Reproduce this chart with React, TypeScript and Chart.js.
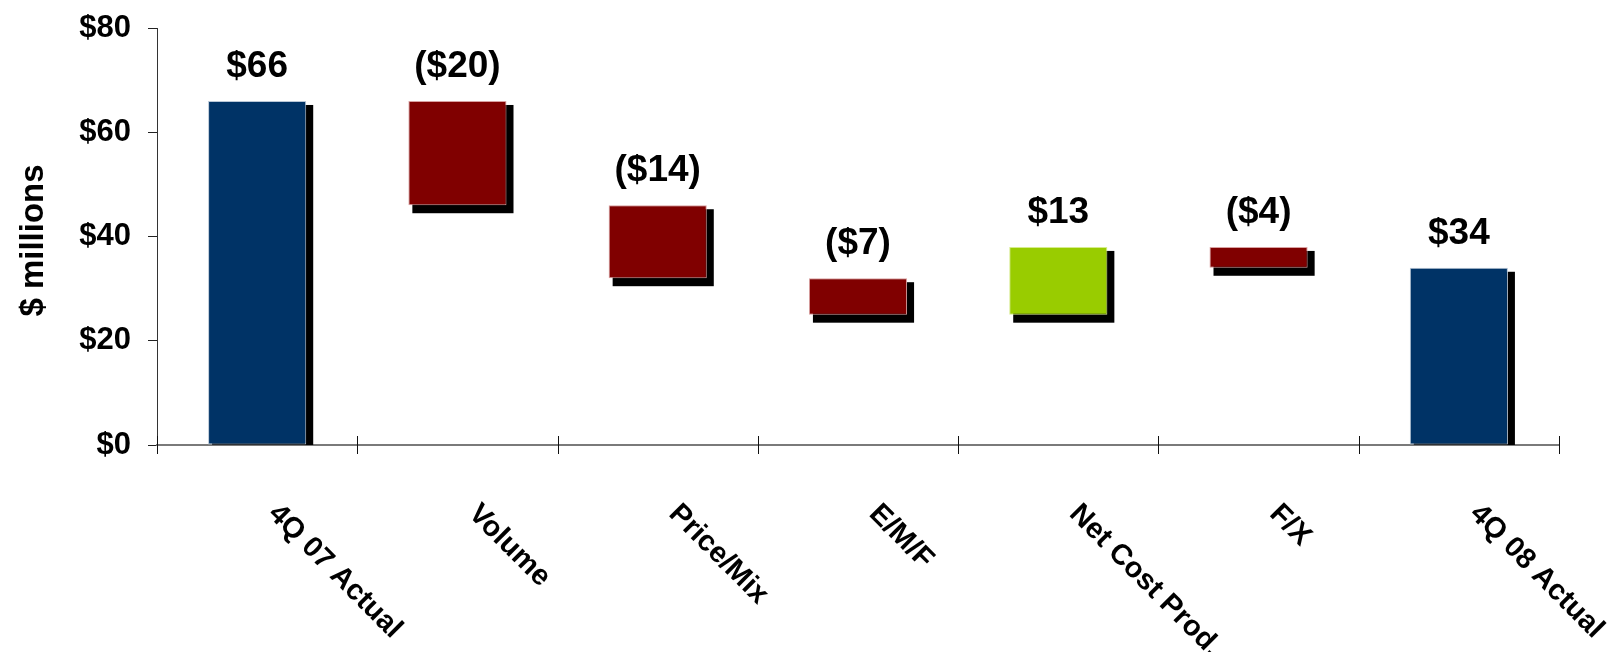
import React, { useEffect, useRef } from "react";
import { Chart, registerables } from "chart.js";

Chart.register(...registerables);

// Fourth-quarter bridge, $ millions
const categories = [
  "4Q 07 Actual",
  "Volume",
  "Price/Mix",
  "E/M/F",
  "Net Cost Prod.",
  "F/X",
  "4Q 08 Actual",
];
const changes = [66, -20, -14, -7, 13, -4, 34];
const isTotal = [true, false, false, false, false, false, true];
const valueLabels = ["$66", "($20)", "($14)", "($7)", "$13", "($4)", "$34"];
const yTicks = [0, 20, 40, 60, 80];

const NAVY = "#003366";
const RED = "#800000";
const GREEN = "#99CC00";
const FONT = '"Liberation Sans", Arial, Helvetica, sans-serif';

// floating [start, end] ranges for the waterfall
const ranges: [number, number][] = [];
{
  let running = 0;
  changes.forEach((v, i) => {
    if (isTotal[i]) {
      ranges.push([0, v]);
      running = v;
    } else {
      ranges.push([running, running + v]);
      running += v;
    }
  });
}
const fills = changes.map((v, i) => (isTotal[i] ? NAVY : v < 0 ? RED : GREEN));
const edges = changes.map((v, i) =>
  isTotal[i] ? "#b9c7d6" : v < 0 ? "#d9a0a0" : "#d6ec8c"
);

const waterfallDecor = {
  id: "waterfallDecor",
  beforeDatasetsDraw(chart: any) {
    const { ctx, chartArea } = chart;
    const meta = chart.getDatasetMeta(0);
    ctx.save();
    ctx.fillStyle = "#000";
    meta.data.forEach((el: any) => {
      const half = el.width / 2;
      const top = Math.min(el.y, el.base);
      const bottom = Math.max(el.y, el.base);
      const l = el.x - half + 4;
      const r = el.x + half + 7;
      const t = top + 4;
      const b = Math.min(bottom + 8, chartArea.bottom);
      ctx.fillRect(l, t, r - l, b - t);
    });
    ctx.restore();
  },
  afterDraw(chart: any) {
    const { ctx, chartArea } = chart;
    const meta = chart.getDatasetMeta(0);
    ctx.save();

    // value labels above each bar
    ctx.fillStyle = "#000";
    ctx.font = `bold 37px ${FONT}`;
    ctx.textAlign = "center";
    ctx.textBaseline = "alphabetic";
    meta.data.forEach((el: any, i: number) => {
      const top = Math.min(el.y, el.base);
      ctx.fillText(valueLabels[i], el.x, top - 24);
    });

    // category tick marks
    const n = categories.length;
    const step = (chartArea.right - chartArea.left) / n;
    ctx.strokeStyle = "#111";
    ctx.lineWidth = 1;
    for (let i = 0; i <= n; i++) {
      const x = Math.round(chartArea.left + i * step) + 0.5;
      ctx.beginPath();
      ctx.moveTo(x, chartArea.bottom - 9);
      ctx.lineTo(x, chartArea.bottom + 9);
      ctx.stroke();
    }

    // slanted category labels
    ctx.font = `bold 29px ${FONT}`;
    ctx.textAlign = "left";
    ctx.textBaseline = "alphabetic";
    meta.data.forEach((el: any, i: number) => {
      ctx.save();
      ctx.translate(el.x + 10, chartArea.bottom + 70);
      ctx.rotate(Math.PI / 4);
      ctx.fillText(categories[i], 0, 0);
      ctx.restore();
    });

    // y-axis title
    ctx.font = `bold 33px ${FONT}`;
    ctx.textAlign = "center";
    ctx.save();
    ctx.translate(43, (chartArea.top + chartArea.bottom) / 2 + 4);
    ctx.rotate(-Math.PI / 2);
    ctx.fillText("$ millions", 0, 0);
    ctx.restore();

    ctx.restore();
  },
};

export default function App() {
  const canvasRef = useRef<HTMLCanvasElement | null>(null);

  useEffect(() => {
    if (!canvasRef.current) return;
    const chart = new Chart(canvasRef.current, {
      type: "bar",
      data: {
        labels: categories,
        datasets: [
          {
            data: ranges as any,
            backgroundColor: fills,
            borderColor: edges,
            borderWidth: 1,
            borderSkipped: false,
            barPercentage: 0.49,
            categoryPercentage: 1,
          },
        ],
      },
      options: {
        animation: false,
        responsive: true,
        maintainAspectRatio: false,
        layout: { padding: { top: 28, right: 50, left: 0, bottom: 0 } },
        plugins: {
          legend: { display: false },
          tooltip: { enabled: false },
          title: { display: false },
        },
        scales: {
          x: {
            grid: { display: false },
            ticks: { display: false },
            border: { display: true, color: "#7a7a7a", width: 2 },
            afterFit: (s: any) => {
              s.height = 207;
            },
          },
          y: {
            min: 0,
            max: 80,
            afterBuildTicks: (s: any) => {
              s.ticks = yTicks.map((v) => ({ value: v }));
            },
            ticks: {
              padding: 17,
              color: "#000",
              font: { family: FONT, size: 31, weight: "bold" },
              callback: (v: any) => "$" + v,
            },
            grid: {
              drawOnChartArea: false,
              drawTicks: true,
              tickLength: 9,
              color: "#222",
            },
            border: { display: true, color: "#333", width: 1 },
            afterFit: (s: any) => {
              s.width = 157;
              s.paddingTop = 0;
              s.paddingBottom = 0;
            },
          },
        },
      },
      plugins: [waterfallDecor],
    });
    return () => chart.destroy();
  }, []);

  return (
    <div
      style={{
        position: "fixed",
        left: 0,
        top: 0,
        width: 1609,
        height: 652,
        background: "#fff",
      }}
    >
      <canvas ref={canvasRef} />
    </div>
  );
}
